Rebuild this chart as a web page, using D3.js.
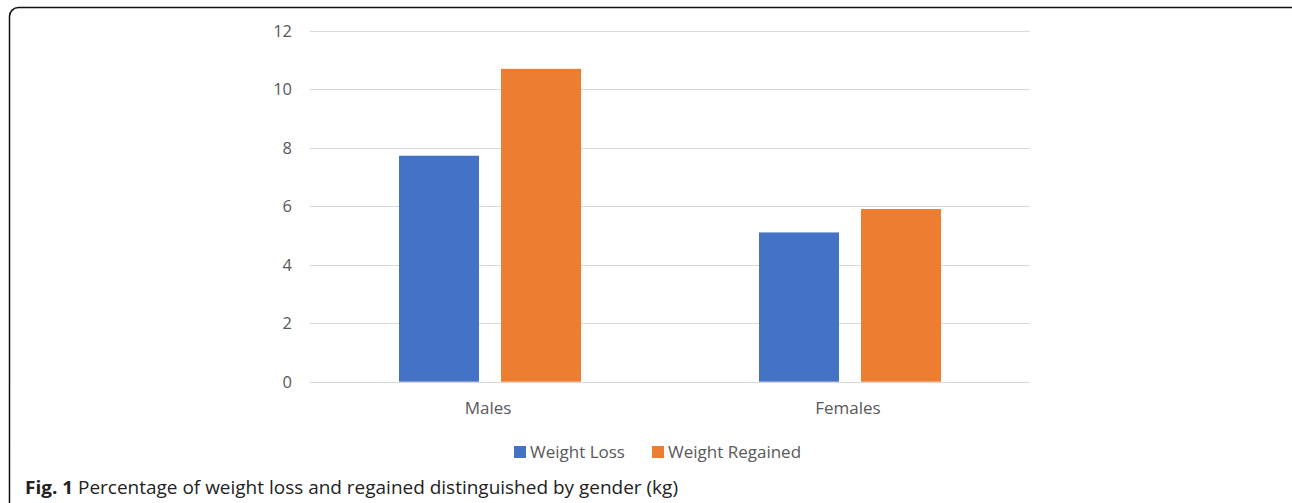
<!DOCTYPE html>
<meta charset="utf-8">
<title>Weight loss and regained by gender</title>
<style>
body { margin: 0; background: #fff; }
text { font-family: "Open Sans", "Noto Sans", sans-serif; }
</style>
<svg width="1292" height="503"></svg>
<script src="https://d3js.org/d3.v7.min.js"></script>
<script>

var categories = ["Males", "Females"];
var seriesNames = ["Weight Loss", "Weight Regained"];
var weightLoss = [7.72, 5.10];
var weightRegained = [10.69, 5.90];
var yTicks = [0, 2, 4, 6, 8, 10, 12];
var colors = ["#4472c4", "#ed7d31"];

var svg = d3.select("svg");

// frame round the figure
svg.append("rect")
    .attr("x", 9.5).attr("y", 7.5)
    .attr("width", 1292).attr("height", 520)
    .attr("rx", 9)
    .attr("fill", "none")
    .attr("stroke", "#111")
    .attr("stroke-width", 1.5);

var x0 = d3.scaleBand().domain(categories).range([310, 1030]);
var mid = x0.bandwidth() / 2;
var x1 = d3.scaleBand().domain(seriesNames).range([mid - 91, mid + 91]).paddingInner(22 / 102);
var y = d3.scaleLinear().domain([0, 12]).range([381.7, 30.5]);

// grid
svg.append("g")
  .selectAll("line")
  .data(yTicks)
  .enter().append("line")
    .attr("x1", 310).attr("x2", 1030)
    .attr("y1", function(d) { return Math.round(y(d)) + 0.5; })
    .attr("y2", function(d) { return Math.round(y(d)) + 0.5; })
    .attr("stroke", "#d9d9d9");

svg.append("g")
  .selectAll("text")
  .data(yTicks)
  .enter().append("text")
    .attr("x", 292)
    .attr("y", function(d) { return y(d) + 6; })
    .attr("text-anchor", "end")
    .attr("font-size", 16.5)
    .attr("fill", "#595959")
    .text(function(d) { return d; });

var rows = categories.map(function(c, i) {
  return [weightLoss[i], weightRegained[i]];
});

svg.append("g")
  .selectAll("g")
  .data(rows)
  .enter().append("g")
    .attr("transform", function(d, i) { return "translate(" + x0(categories[i]) + ",0)"; })
  .selectAll("rect")
  .data(function(d) { return d; })
  .enter().append("rect")
    .attr("x", function(d, j) { return x1(seriesNames[j]); })
    .attr("width", x1.bandwidth())
    .attr("y", function(d) { return y(d); })
    .attr("height", function(d) { return y(0) - y(d); })
    .attr("fill", function(d, j) { return colors[j]; });

svg.append("g")
  .selectAll("text")
  .data(categories)
  .enter().append("text")
    .attr("x", function(d) { return x0(d) + x0.bandwidth() / 2 - 2; })
    .attr("y", 414)
    .attr("text-anchor", "middle")
    .attr("font-size", 17)
    .attr("fill", "#595959")
    .text(function(d) { return d; });

// legend
var legendX = [514, 652];
var legend = svg.append("g")
  .selectAll("g")
  .data(seriesNames)
  .enter().append("g")
    .attr("transform", function(d, i) { return "translate(" + legendX[i] + ",446)"; });
legend.append("rect")
    .attr("width", 12).attr("height", 12)
    .attr("fill", function(d, i) { return colors[i]; });
legend.append("text")
    .attr("x", 16).attr("y", 12)
    .attr("font-size", 17)
    .attr("fill", "#595959")
    .text(function(d) { return d; });

// caption
var cap = svg.append("text")
    .attr("x", 25).attr("y", 494)
    .attr("font-size", 18.5)
    .attr("fill", "#222")
    .attr("textLength", 653)
    .attr("lengthAdjust", "spacingAndGlyphs");
cap.append("tspan").attr("font-weight", "bold").text("Fig. 1");
cap.append("tspan").text(" Percentage of weight loss and regained distinguished by gender (kg)");

</script>
